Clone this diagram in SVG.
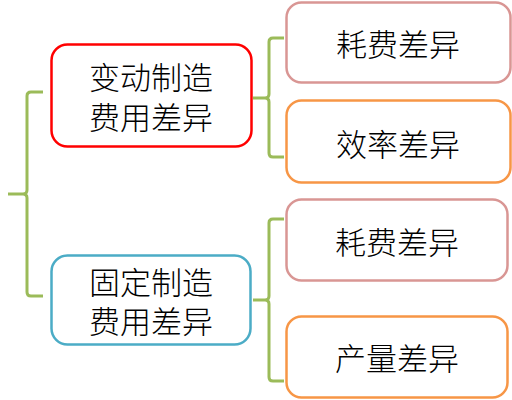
<svg xmlns="http://www.w3.org/2000/svg" width="512" height="400" viewBox="0 0 512 400">
<style>
.box{fill:#ffffff;stroke-width:2.5}
.br{fill:none;stroke:#9BBB59;stroke-width:3;stroke-linecap:butt;stroke-linejoin:round}
.t{font-family:"Noto Sans CJK SC","Noto Sans CJK JP",sans-serif;font-size:31px;font-weight:300;fill:#000000;text-anchor:middle}
</style>
<rect width="512" height="400" fill="#ffffff"/>
<g id="connectors">
<path class="br" d="M43,92 L31,92 Q27,92 27,96 L27,190 Q27,194 23,194 L8,194 M23,194 Q27,194 27,198 L27,292 Q27,296 31,296 L43,296"/>
<path class="br" d="M284,38 L273,38 Q269,38 269,42 L269,94 Q269,98 265,98 L253,98 M265,98 Q269,98 269,102 L269,153 Q269,157 273,157 L284,157"/>
<path class="br" d="M284,219 L273,219 Q269,219 269,223 L269,296 Q269,300 265,300 L253,300 M265,300 Q269,300 269,304 L269,377 Q269,381 273,381 L284,381"/>
</g>
<g id="node-variable">
<rect class="box" x="51.5" y="44.5" width="200" height="102" rx="16" stroke="#FF0000"/>
<text class="t"><tspan x="151" y="89">变动制造</tspan><tspan x="151" y="129">费用差异</tspan></text>
</g>
<g id="node-fixed">
<rect class="box" x="51.5" y="255.5" width="199" height="89" rx="16" stroke="#4BACC6"/>
<text class="t"><tspan x="151" y="294">固定制造</tspan><tspan x="151" y="333">费用差异</tspan></text>
</g>
<g id="node-spend1">
<rect class="box" x="286.5" y="2.5" width="224" height="80" rx="15" stroke="#D99694"/>
<text class="t" x="398" y="56">耗费差异</text>
</g>
<g id="node-eff">
<rect class="box" x="286.5" y="100.5" width="224" height="82" rx="15" stroke="#F79646"/>
<text class="t" x="398" y="156">效率差异</text>
</g>
<g id="node-spend2">
<rect class="box" x="286.5" y="199.5" width="221" height="81" rx="15" stroke="#D99694"/>
<text class="t" x="397" y="254">耗费差异</text>
</g>
<g id="node-volume">
<rect class="box" x="286.5" y="316.5" width="221" height="81" rx="15" stroke="#F79646"/>
<text class="t" x="397" y="370">产量差异</text>
</g>
</svg>
